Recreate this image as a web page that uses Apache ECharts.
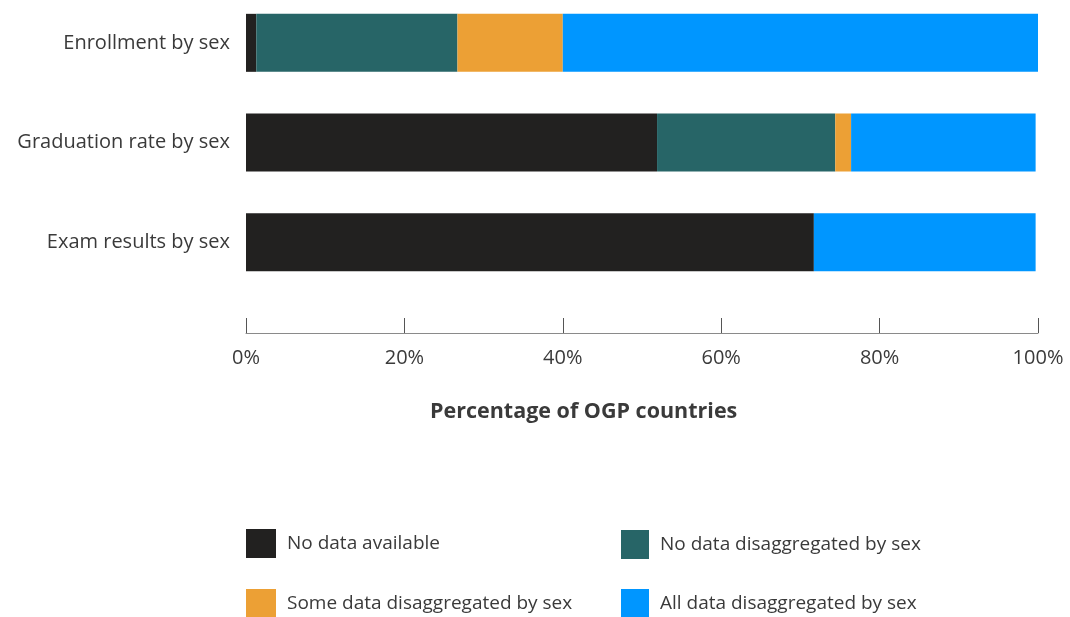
<!DOCTYPE html>
<html>
<head>
<meta charset="utf-8">
<script src="https://cdn.jsdelivr.net/npm/echarts@6/dist/echarts.min.js"></script>
<style>html,body{margin:0;padding:0;background:#fff}#c{width:1070px;height:617px}</style>
</head>
<body>
<div id="c"></div>
<script>
const categories = ['Enrollment by sex', 'Graduation rate by sex', 'Exam results by sex'];
const seriesNames = ['No data available', 'No data disaggregated by sex', 'Some data disaggregated by sex', 'All data disaggregated by sex'];
const noData = [1.3, 51.9, 71.7];
const noDisagg = [25.4, 22.5, 0];
const someDisagg = [13.3, 2.0, 0];
const allDisagg = [60.0, 23.3, 28.0];
const xTicks = [0, 20, 40, 60, 80, 100];
const colors = ['#222120', '#276567', '#ECA035', '#0096FF'];
const values = [noData, noDisagg, someDisagg, allDisagg];

const font = '"Open Sans", sans-serif';
const textColor = '#3a3a3a';
const legendPos = [
  {left: 246, top: 529, w: 30},
  {left: 621, top: 530, w: 28},
  {left: 246, top: 589, w: 30},
  {left: 621, top: 589, w: 28}
];
const chart = echarts.init(document.getElementById('c'), null, {renderer: 'canvas'});
chart.setOption({
  animation: false,
  grid: {left: 246, right: 32, top: -7, height: 299, containLabel: false, outerBoundsMode: 'none'},
  xAxis: {
    type: 'value', min: xTicks[0], max: xTicks[xTicks.length - 1], interval: 20,
    offset: 41,
    axisLine: {show: true, lineStyle: {color: '#8a8a8a', width: 1}},
    axisTick: {show: true, inside: true, length: 15, lineStyle: {color: '#555', width: 1}},
    splitLine: {show: false},
    axisLabel: {formatter: '{value}%', color: textColor, fontSize: 20, fontFamily: font, margin: 15}
  },
  yAxis: {
    type: 'category', data: categories, inverse: true,
    axisLine: {show: false}, axisTick: {show: false},
    axisLabel: {color: textColor, fontSize: 20, fontFamily: font, margin: 16}
  },
  legend: seriesNames.map((n, i) => ({
    left: legendPos[i].left, top: legendPos[i].top, orient: 'horizontal',
    itemWidth: legendPos[i].w, itemHeight: 29, icon: 'rect', padding: 0,
    data: [n],
    textStyle: {color: textColor, fontSize: 19, fontFamily: font, padding: [0, 0, 0, 6]}
  })),
  graphic: [{
    type: 'text', left: 430, top: 401,
    style: {text: 'Percentage of OGP countries', fill: textColor, font: 'bold 21.5px ' + font}
  }],
  series: seriesNames.map((n, i) => ({
    name: n, type: 'bar', stack: 'total', barWidth: 58,
    itemStyle: {color: colors[i]},
    data: values[i]
  }))
});
</script>
</body>
</html>
